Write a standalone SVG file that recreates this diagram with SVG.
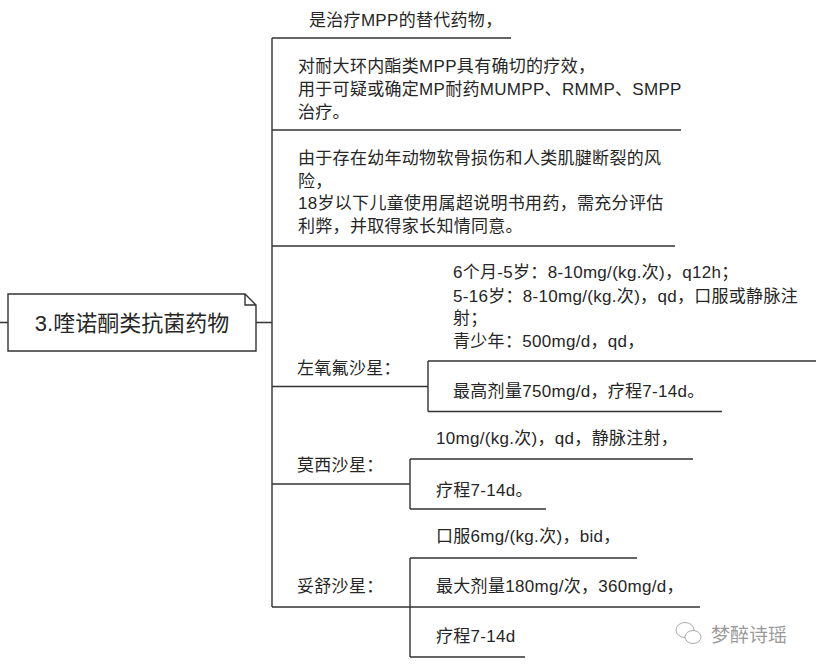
<svg xmlns="http://www.w3.org/2000/svg" width="816" height="670" viewBox="0 0 816 670">
<style>
.t{font-family:"Liberation Sans","Noto Sans CJK SC",sans-serif;font-size:17px;letter-spacing:0.3px;fill:#262626}
.root{font-family:"Liberation Sans","Noto Sans CJK SC",sans-serif;font-size:22px;fill:#262626}
.ln{stroke:#333;stroke-width:1.4;fill:none}
.wm{font-family:"Noto Sans CJK SC",sans-serif;font-size:19px;fill:#9a9a9a}
</style>
<rect width="816" height="670" fill="#fff"/>
<g id="connectors">
<path class="ln" d="M0,322.5 H8 M256,322.5 H272 M272,38 V607"/>
<path class="ln" d="M272,38 H511 M272,130 H681 M272,246 H675"/>
<path class="ln" d="M272,386.5 H428 M428,361 V411.5 M428,361 H816 M428,411.5 H722"/>
<path class="ln" d="M272,484 H410 M410,459 V509 M410,459 H693 M410,509 H546"/>
<path class="ln" d="M272,607 H700 M410,558 V657 M410,558 H637 M410,657 H525"/>
</g>
<g id="root">
<path class="ln" d="M8,294 H245 L256,305 V351 H8 Z M245,294 V305 H256"/>
<text class="root" x="132" y="331" text-anchor="middle">3.喹诺酮类抗菌药物</text>
</g>
<g id="n1"><text class="t" x="309" y="26">是治疗MPP的替代药物，</text></g>
<g id="n2"><text class="t" x="298" y="72">对耐大环内酯类MPP具有确切的疗效，</text><text class="t" x="298" y="95">用于可疑或确定MP耐药MUMPP、RMMP、SMPP</text><text class="t" x="298" y="118">治疗。</text></g>
<g id="n3"><text class="t" x="298" y="164">由于存在幼年动物软骨损伤和人类肌腱断裂的风</text><text class="t" x="298" y="187">险，</text><text class="t" x="298" y="209">18岁以下儿童使用属超说明书用药，需充分评估</text><text class="t" x="298" y="232">利弊，并取得家长知情同意。</text></g>
<g id="n4"><text class="t" x="297" y="374">左氧氟沙星：</text></g>
<g id="n4a"><text class="t" x="453" y="278">6个月-5岁：8-10mg/(kg.次)，q12h；</text><text class="t" x="453" y="302">5-16岁：8-10mg/(kg.次)，qd，口服或静脉注</text><text class="t" x="453" y="324">射；</text><text class="t" x="453" y="347">青少年：500mg/d，qd，</text></g>
<g id="n4b"><text class="t" x="453" y="397">最高剂量750mg/d，疗程7-14d。</text></g>
<g id="n5"><text class="t" x="297" y="471">莫西沙星：</text></g>
<g id="n5a"><text class="t" x="436" y="444">10mg/(kg.次)，qd，静脉注射，</text></g>
<g id="n5b"><text class="t" x="436" y="496">疗程7-14d。</text></g>
<g id="n6"><text class="t" x="297" y="592">妥舒沙星：</text></g>
<g id="n6a"><text class="t" x="436" y="542">口服6mg/(kg.次)，bid，</text></g>
<g id="n6b"><text class="t" x="436" y="592">最大剂量180mg/次，360mg/d，</text></g>
<g id="n6c"><text class="t" x="436" y="642">疗程7-14d</text></g>
<g id="watermark">
<ellipse cx="685" cy="630" rx="9" ry="7.5" fill="none" stroke="#aaa" stroke-width="1"/>
<ellipse cx="693" cy="637" rx="8" ry="6.5" fill="#fff" stroke="#aaa" stroke-width="1"/>
<text class="wm" x="711" y="642">梦醉诗瑶</text>
</g>
</svg>
